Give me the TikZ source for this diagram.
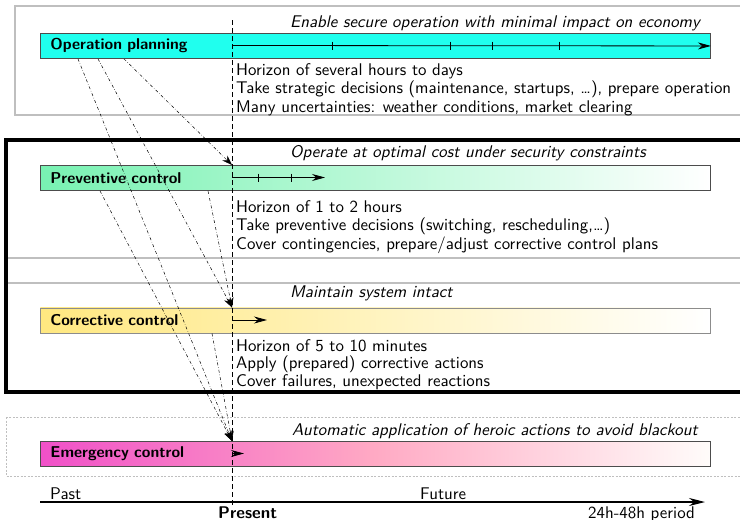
\documentclass[tikz,border=0pt]{standalone}
\usepackage{fontspec}
\setsansfont{lmsans10-regular.otf}[BoldFont=lmsans10-bold.otf, ItalicFont=lmsans10-oblique.otf, BoldItalicFont=lmsans10-boldoblique.otf]
\usetikzlibrary{arrows.meta,calc}
\definecolor{opfill}{RGB}{32,255,238}
\definecolor{pcfill}{RGB}{120,242,178}
\definecolor{ccfill}{RGB}{255,232,128}
\definecolor{ecfill}{RGB}{240,80,200}
\definecolor{ecmid}{RGB}{255,170,196}
\definecolor{ecend}{RGB}{255,252,250}
\tikzset{
  framebox/.style={draw=black!25, line width=1.3pt},
  bar/.style={draw=black!70, line width=0.9pt, minimum width=670pt, minimum height=25pt,
    anchor=north west, inner xsep=10pt, inner ysep=0pt, text width=650pt, align=left,
    font=\bfseries\fontsize{15.7}{18}\selectfont},
  desc/.style={anchor=north west, align=left, inner sep=0pt},
  goal/.style={anchor=base west, inner sep=0pt, font=\itshape},
  lbl/.style={anchor=base west, inner sep=0pt},
  link/.style={dash dot, line width=0.5pt, -{Stealth[length=10pt,width=7pt]}},
  timeline/.style={line width=0.8pt, -{Stealth[length=13pt,width=7pt]}},
  tick/.style={line width=0.8pt},
  nowline/.style={dash pattern=on 5pt off 3pt, line width=0.8pt},
  axis/.style={line width=1.3pt, -{Stealth[length=16pt,width=8pt]}}
}
\begin{document}
\sffamily\fontsize{16.9}{18.5}\selectfont
\begin{tikzpicture}[x=1pt,y=-1pt]
\useasboundingbox (0,0) rectangle (740,520);
\clip (0,0) rectangle (740,520);
% frames
\draw[framebox] (15,6) rectangle (760,115);
\draw[framebox] (6,140) rectangle (760,258);
\draw[framebox] (6,283) rectangle (760,392);
\draw[framebox, line width=0.9pt, dash pattern=on 2pt off 1.5pt] (6,417) rectangle (760,476);
\draw[line width=4pt] (6,140) rectangle (760,392);
% bars
\node[bar, fill=opfill] (op) at (40,33) {Operation planning};
\node[bar, left color=pcfill, right color=white] (pc) at (40,165) {Preventive control};
\node[bar, draw=black!45, left color=ccfill, right color=white] (cc) at (40,307.5) {Corrective control};
\node[bar, left color=ecfill, right color=ecend, middle color=ecmid] (ec) at (40,441) {Emergency control};
% goals
\node[goal] (opgoal) at (290,27) {Enable secure operation with minimal impact on economy};
\node[goal] (pcgoal) at (290,157) {Operate at optimal cost under security constraints};
\node[goal] (ccgoal) at (290,297) {Maintain system intact};
\node[goal] (ecgoal) at (292,435) {Automatic application of heroic actions to avoid blackout};
% descriptions
\node[desc] (opdesc) at (236,63) {Horizon of several hours to days\\Take strategic decisions (maintenance, startups, \dots), prepare operation\\Many uncertainties: weather conditions, market clearing};
\node[desc] (pcdesc) at (236,200) {Horizon of 1 to 2 hours\\Take preventive decisions (switching, rescheduling,\dots)\\Cover contingencies, prepare/adjust corrective control plans};
\node[desc, font=\fontsize{16.9}{17.6}\selectfont] (ccdesc) at (236,339) {Horizon of 5 to 10 minutes\\Apply (prepared) corrective actions\\Cover failures, unexpected reactions};
% present line
\coordinate (ntop) at (232,20);
\coordinate (nbot) at (232,505);
\draw[nowline] (ntop) -- (nbot);
% time arrows inside bars
\coordinate (opnow) at (232,45.5);
\draw[timeline] (opnow) -- (op.east);
\foreach \x in {332,450,492,559} \draw[tick] (\x,41.5) -- (\x,49.5);
\coordinate (pcnow) at (232,177.5);
\coordinate (pcend) at (325,177.5);
\draw[timeline] (pcnow) -- (pcend);
\foreach \x in {258,291} \draw[tick] (\x,173.5) -- (\x,181.5);
\coordinate (ccnow) at (232,320);
\coordinate (ccend) at (267,320);
\draw[timeline] (ccnow) -- (ccend);
\coordinate (ecnow) at (232,453.5);
\coordinate (ecend) at (244,453.5);
\draw[timeline] (ecnow) -- (ecend);
% connectors
\coordinate (pctop) at ($(pc.north west)+(192,0)$);
\coordinate (cctop) at ($(cc.north west)+(192,0)$);
\coordinate (ectop) at ($(ec.north west)+(192,0)$);
\draw[link] ($(op.south west)+(84,0)$) -- (pctop);
\draw[link] ($(op.south west)+(58,0)$) -- (cctop);
\draw[link] ($(op.south west)+(38,0)$) -- (ectop);
\draw[link] ($(pc.south west)+(168,0)$) -- (cctop);
\draw[link] ($(pc.south west)+(60,0)$) -- (ectop);
\draw[link] ($(cc.south west)+(172,0)$) -- (ectop);
% time axis
\coordinate (axs) at (40,502);
\coordinate (axe) at (705,502);
\draw[axis] (axs) -- (axe);
\node[lbl] (past) at (50,499) {Past};
\node[lbl] (future) at (420,499) {Future};
\node[lbl, font=\bfseries] (present) at (218,518) {Present};
\node[lbl] (period) at (588,518) {24h-48h period};
\end{tikzpicture}
\end{document}
